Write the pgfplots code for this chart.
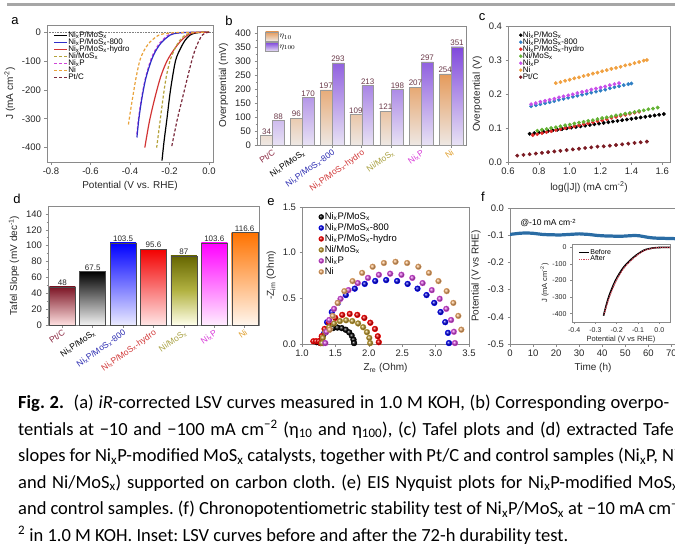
\documentclass[border=0pt]{standalone}
\usepackage{pgfplots}
\pgfplotsset{compat=1.18}
\usepackage{fontspec}
\setmainfont{Liberation Sans}
\newfontfamily\capfont{Carlito}
\definecolor{framec}{HTML}{8A8A8A}
\definecolor{cBlue}{HTML}{2E2EC8}
\definecolor{cRed}{HTML}{D23434}
\definecolor{cOlive}{HTML}{B4A23A}
\definecolor{cMag}{HTML}{D045D8}
\definecolor{cOrange}{HTML}{E9A23B}
\definecolor{cPt}{HTML}{7A2A3C}
\definecolor{sBlue}{HTML}{2F7FC4}
\definecolor{sRed}{HTML}{E02828}
\definecolor{sGreen}{HTML}{62B232}
\definecolor{sMag}{HTML}{C84FEA}
\definecolor{sOrange}{HTML}{F0A040}
\definecolor{sPt}{HTML}{7A1A22}
\definecolor{bOr}{HTML}{E59A5A}
\definecolor{bOrL}{HTML}{EEE8E4}
\definecolor{bPu}{HTML}{8048DC}
\definecolor{bPuL}{HTML}{E8E2F4}
\definecolor{cVal}{HTML}{6A3848}
\definecolor{lPt}{HTML}{8B2942}
\definecolor{lBlue}{HTML}{2A2AB0}
\definecolor{lRed}{HTML}{D03535}
\definecolor{lOlive}{HTML}{A8A040}
\definecolor{lMag}{HTML}{D83AD8}
\definecolor{lOr}{HTML}{E0A030}
\definecolor{eOlive}{HTML}{B8962E}
\definecolor{eOrange}{HTML}{EAA868}
\definecolor{fBlue}{HTML}{2A6CA4}
\definecolor{dotRed}{HTML}{D04858}
\definecolor{dPt}{HTML}{7C1525}
\pgfplotsset{
  panel/.style={scale only axis, anchor=south west,
    axis line style={framec, line width=0.7pt},
    tick style={framec, line width=0.6pt},
    tick align=outside, major tick length=2.5pt, minor tick length=1.5pt,
    xtick pos=left, ytick pos=left,
    tick label style={font=\fontsize{9.5}{10}\selectfont, text=black!85},
    label style={font=\fontsize{10}{11}\selectfont, text=black!85},
    legend cell align=left,
  },
  sc/.style={only marks, mark=*, mark size=1.75pt},
  bl/.style={only marks, mark=ball, mark size=2.9pt},
}
\tikzset{dash1/.style={dash pattern=on 3pt off 2pt, line width=1.2pt}}
\newcommand{\NPM}{Ni\textsubscript{x}P/MoS\textsubscript{x}}
\begin{document}
\begin{tikzpicture}
\fill[gray!70] (7pt,-2.7pt) rectangle (680pt,-6pt);
% panel letters
\node[font=\fontsize{13}{13}\selectfont] at (15pt,-21pt) {a};
\node[font=\fontsize{13}{13}\selectfont] at (229pt,-21pt) {b};
\node[font=\fontsize{13}{13}\selectfont] at (482pt,-17pt) {c};
\node[font=\fontsize{13}{13}\selectfont] at (17pt,-199pt) {d};
\node[font=\fontsize{13}{13}\selectfont] at (271pt,-202pt) {e};
\node[font=\fontsize{13}{13}\selectfont] at (483pt,-197pt) {f};

% ---------------- a
\begin{axis}[panel, at={(47pt,-162pt)}, width=166pt, height=137pt,
  xmin=-0.82, xmax=0.02, ymin=-450, ymax=25,
  xtick={-0.8,-0.6,-0.4,-0.2,0}, xticklabels={-0.8,-0.6,-0.4,-0.2,0.0},
  ytick={-400,-300,-200,-100,0}, yticklabels={-400,-300,-200,-100,0},
  xlabel={Potential (V vs. RHE)}, ylabel={J (mA cm\textsuperscript{-2})},
  legend style={at={(0.02,0.97)}, anchor=north west, draw=none, fill=none,
    font=\fontsize{8}{8}\selectfont, row sep=-1.5pt, nodes={inner sep=0.6pt}},
  legend image code/.code={\draw[#1] (0pt,0pt) -- (13pt,0pt);},
]
\addplot[gray, densely dotted, line width=0.6pt, forget plot] coordinates {(-0.82,0) (0.02,0)};
\addplot[cMag, dash1, smooth, forget plot] coordinates {(0,0) (-0.12,-1) (-0.175,-4) (-0.207,-10) (-0.25,-38) (-0.277,-68) (-0.297,-100) (-0.322,-160) (-0.342,-230) (-0.357,-300) (-0.366,-360)};
\addplot[black, line width=1.2pt, smooth] coordinates {(0,0) (-0.04,-0.5) (-0.07,-3) (-0.096,-10) (-0.12,-27) (-0.145,-57) (-0.17,-100) (-0.195,-200) (-0.213,-300) (-0.228,-380) (-0.238,-445)};
\addlegendentry{\NPM}
\addplot[cBlue, line width=1.2pt, smooth] coordinates {(0,0) (-0.1,-0.5) (-0.16,-3) (-0.197,-10) (-0.24,-35) (-0.27,-65) (-0.293,-100) (-0.32,-160) (-0.34,-230) (-0.355,-300) (-0.365,-365)};
\addlegendentry{\NPM-800}
\addplot[cRed, line width=1.2pt, smooth] coordinates {(0,0) (-0.06,-0.8) (-0.09,-4) (-0.109,-10) (-0.14,-28) (-0.175,-58) (-0.213,-100) (-0.245,-155) (-0.275,-230) (-0.302,-310) (-0.325,-400)};
\addlegendentry{\NPM-hydro}
\addplot[cOlive, dash1, smooth] coordinates {(0,0) (-0.07,-1) (-0.1,-4) (-0.121,-10) (-0.15,-30) (-0.175,-60) (-0.198,-100) (-0.218,-160) (-0.235,-240) (-0.25,-320) (-0.265,-400)};
\addlegendentry{Ni/MoS\textsubscript{x}}
\addlegendimage{cMag, dash1}
\addlegendentry{Ni\textsubscript{x}P}
\addplot[cOrange, dash1, smooth] coordinates {(0,0) (-0.15,-1) (-0.21,-4) (-0.254,-10) (-0.3,-35) (-0.33,-65) (-0.351,-100) (-0.37,-160) (-0.385,-220) (-0.398,-275) (-0.408,-320)};
\addlegendentry{Ni}
\addplot[cPt, dash1, smooth] coordinates {(0,0) (-0.015,-2) (-0.034,-10) (-0.05,-28) (-0.07,-60) (-0.088,-100) (-0.11,-160) (-0.135,-230) (-0.16,-300) (-0.19,-400)};
\addlegendentry{Pt/C}
\end{axis}

% ---------------- b
\begin{axis}[panel, at={(257pt,-145pt)}, width=209pt, height=119pt,
  xmin=-0.52, xmax=6.5, ymin=0, ymax=425,
  ytick={0,50,100,150,200,250,300,350,400}, yticklabels={0,50,100,150,200,250,300,350,400}, minor y tick num=1,
  xtick={0,1,2,3,4,5,6},
  xticklabels={{\textcolor{lPt}{Pt/C}},{\textcolor{black}{\NPM}},{\textcolor{lBlue}{\NPM-800}},{\textcolor{lRed}{\NPM-hydro}},{\textcolor{lOlive}{Ni/MoS\textsubscript{x}}},{\textcolor{lMag}{Ni\textsubscript{x}P}},{\textcolor{lOr}{Ni}}},
  x tick label style={rotate=35, anchor=north east, font=\fontsize{8.5}{9}\selectfont, inner sep=1pt},
  ylabel={Overpotential (mV)},
  ybar=0pt, bar width=11.8pt,
  point meta=explicit symbolic,
  nodes near coords, nodes near coords style={font=\fontsize{8}{8}\selectfont, text=cVal, inner sep=1pt},
  legend style={at={(0.025,0.97)}, anchor=north west, draw=none, fill=none,
    font=\fontsize{8}{8}\selectfont, row sep=1pt, nodes={inner sep=0.8pt}},
  legend image code/.code={\path[#1] (0pt,-4pt) rectangle (13pt,5pt);},
]
\addplot[draw=gray!80, top color=bOr, bottom color=bOrL] coordinates {(0,34) [34] (1,96) [96] (2,197) [197] (3,109) [109] (4,121) [121] (5,207) [207] (6,254) [254]};
\addlegendentry{$\eta_{10}$}
\addplot[draw=gray!80, top color=bPu, bottom color=bPuL] coordinates {(0,88) [88] (1,170) [170] (2,293) [293] (3,213) [213] (4,198) [198] (5,297) [297] (6,351) [351]};
\addlegendentry{$\eta_{100}$}
\end{axis}

% ---------------- c
\begin{axis}[panel, at={(508pt,-162pt)}, width=162pt, height=136pt,
  xmin=0.6, xmax=1.65, ymin=0, ymax=0.4,
  xtick={0.6,0.8,1.0,1.2,1.4,1.6}, xticklabels={0.6,0.8,1.0,1.2,1.4,1.6},
  ytick={0,0.1,0.2,0.3,0.4}, yticklabels={0.0,0.1,0.2,0.3,0.4},
  xlabel={log(|J|) (mA cm\textsuperscript{-2})}, ylabel={Overpotential (V)},
  legend style={at={(0.05,0.98)}, anchor=north west, draw=none, fill=none,
    font=\fontsize{8}{8}\selectfont, row sep=-1.5pt, nodes={inner sep=0.6pt}},
  legend image code/.code={\draw[#1, mark size=1.5pt] plot coordinates {(5pt,0pt)};},
]
\addplot[sc, black] table {
0.74 0.083
0.77 0.085
0.80 0.087
0.83 0.089
0.86 0.091
0.89 0.093
0.92 0.095
0.95 0.097
0.98 0.099
1.01 0.101
1.04 0.103
1.07 0.105
1.10 0.107
1.13 0.109
1.16 0.111
1.19 0.113
1.22 0.115
1.25 0.117
1.28 0.119
1.31 0.121
1.34 0.123
1.37 0.125
1.40 0.127
1.43 0.129
1.46 0.131
1.49 0.133
1.52 0.135
1.55 0.137
1.58 0.139
1.61 0.141
};
\addlegendentry{\NPM}
\addplot[sc, sBlue] table {
0.75 0.164
0.78 0.167
0.81 0.170
0.84 0.173
0.87 0.176
0.90 0.179
0.93 0.183
0.96 0.186
0.99 0.189
1.02 0.192
1.05 0.195
1.08 0.198
1.11 0.201
1.14 0.204
1.17 0.207
1.20 0.210
1.23 0.213
1.26 0.217
1.29 0.220
1.32 0.223
1.35 0.226
1.38 0.229
1.40 0.231
};
\addlegendentry{\NPM-800}
\addplot[sc, sRed] table {
0.76 0.079
0.79 0.082
0.82 0.085
0.85 0.088
0.88 0.091
0.91 0.094
0.94 0.097
0.97 0.100
1.00 0.102
1.03 0.105
1.06 0.108
1.09 0.111
1.12 0.114
1.15 0.117
1.18 0.120
1.21 0.123
1.24 0.126
1.27 0.130
1.30 0.133
1.33 0.136
1.36 0.139
1.39 0.142
1.42 0.145
1.45 0.148
};
\addlegendentry{\NPM-hydro}
\addplot[sc, sGreen] table {
0.79 0.092
0.82 0.095
0.85 0.097
0.88 0.100
0.91 0.102
0.94 0.105
0.97 0.108
1.00 0.110
1.03 0.113
1.06 0.116
1.09 0.118
1.12 0.121
1.15 0.123
1.18 0.126
1.21 0.129
1.24 0.131
1.27 0.134
1.30 0.137
1.33 0.139
1.36 0.142
1.39 0.144
1.42 0.147
1.45 0.150
1.48 0.152
1.51 0.155
1.54 0.157
1.57 0.160
};
\addlegendentry{Ni/MoS\textsubscript{x}}
\addplot[sc, sMag] table {
0.75 0.170
0.78 0.173
0.81 0.177
0.84 0.180
0.87 0.183
0.90 0.186
0.93 0.190
0.96 0.193
0.99 0.196
1.02 0.199
1.05 0.203
1.08 0.206
1.11 0.209
1.14 0.213
1.17 0.216
1.20 0.219
1.23 0.222
1.26 0.226
1.29 0.229
1.32 0.232
};
\addlegendentry{Ni\textsubscript{x}P}
\addplot[sc, sOrange] table {
0.91 0.232
0.94 0.235
0.97 0.239
1.00 0.242
1.03 0.246
1.06 0.249
1.09 0.253
1.12 0.256
1.15 0.260
1.18 0.263
1.21 0.267
1.24 0.270
1.27 0.274
1.30 0.277
1.33 0.280
1.36 0.284
1.39 0.287
1.42 0.291
1.45 0.294
1.48 0.298
1.50 0.300
};
\addlegendentry{Ni}
\addplot[sc, sPt] table {
0.66 0.019
0.70 0.021
0.74 0.023
0.78 0.025
0.82 0.027
0.86 0.029
0.90 0.031
0.94 0.033
0.98 0.035
1.02 0.037
1.06 0.039
1.10 0.041
1.14 0.043
1.18 0.045
1.22 0.046
1.26 0.048
1.30 0.050
1.34 0.052
1.38 0.054
1.42 0.056
1.46 0.058
1.50 0.060
};
\addlegendentry{Pt/C}
\end{axis}

% ---------------- d
\begin{axis}[panel, at={(48pt,-325pt)}, width=211pt, height=119pt,
  xmin=-0.47, xmax=6.47, ymin=0, ymax=150,
  ytick={0,20,40,60,80,100,120,140}, yticklabels={0,20,40,60,80,100,120,140}, minor y tick num=1,
  xtick={0,1,2,3,4,5,6},
  xticklabels={{\textcolor{lPt}{Pt/C}},{\textcolor{black}{\NPM}},{\textcolor{lBlue}{\NPM-800}},{\textcolor{lRed}{\NPM-hydro}},{\textcolor{lOlive}{Ni/MoS\textsubscript{x}}},{\textcolor{lMag}{Ni\textsubscript{x}P}},{\textcolor{lOr}{Ni}}},
  x tick label style={rotate=35, anchor=north east, font=\fontsize{8.5}{9}\selectfont, inner sep=1pt},
  ylabel={Tafel Slope (mV dec\textsuperscript{-1})},
  ybar, bar width=26pt,
  point meta=explicit symbolic,
  nodes near coords, nodes near coords style={font=\fontsize{8}{8}\selectfont, text=black!85, inner sep=1pt},
]
\addplot[bar shift=0pt, draw=gray!60!black, top color=dPt, bottom color=white!88!red] coordinates {(0,48) [48]};
\addplot[bar shift=0pt, draw=gray!60!black, top color=black, bottom color=black!5] coordinates {(1,67.5) [67.5]};
\addplot[bar shift=0pt, draw=gray!60!black, top color=blue, bottom color=blue!8] coordinates {(2,103.5) [103.5]};
\addplot[bar shift=0pt, draw=gray!60!black, top color=red!95!black, bottom color=red!10] coordinates {(3,95.6) [95.6]};
\addplot[bar shift=0pt, draw=gray!60!black, top color=olive!80!black, bottom color=yellow!8] coordinates {(4,87) [87]};
\addplot[bar shift=0pt, draw=gray!60!black, top color=magenta, bottom color=magenta!7] coordinates {(5,103.6) [103.6]};
\addplot[bar shift=0pt, draw=gray!60!black, top color=orange!90!red, bottom color=orange!7] coordinates {(6,116.6) [116.6]};
\end{axis}

% ---------------- e
\begin{axis}[panel, at={(302pt,-344pt)}, width=167pt, height=137pt,
  xmin=1, xmax=3.5, ymin=0, ymax=1.5,
  xtick={1,1.5,2,2.5,3,3.5}, xticklabels={1.0,1.5,2.0,2.5,3.0,3.5},
  ytick={0,0.5,1,1.5}, yticklabels={0.0,0.5,1.0,1.5},
  xlabel={Z\textsubscript{re} (Ohm)}, ylabel={-Z\textsubscript{im} (Ohm)},
  legend style={at={(0.08,0.98)}, anchor=north west, draw=none, fill=none,
    font=\fontsize{9.5}{9.5}\selectfont, row sep=1pt, nodes={inner sep=0.8pt}},
  legend image code/.code={\draw[#1, mark size=2.5pt] plot coordinates {(5pt,0pt)};},
]
\addplot[bl, black, ball color=black] coordinates {(1.22,0.02) (1.25,0.02) (1.28,0.01) (1.289,0.047) (1.313,0.09) (1.353,0.127) (1.405,0.156) (1.465,0.174) (1.53,0.18) (1.595,0.174) (1.655,0.156) (1.707,0.127) (1.747,0.09) (1.771,0.047) (1.78,0.01)};
\addlegendentry{\NPM}
\addplot[bl, blue, ball color=blue!85!black] coordinates {(1.32,0.01) (1.334,0.122) (1.376,0.239) (1.446,0.35) (1.54,0.45) (1.656,0.536) (1.79,0.606) (1.939,0.658) (2.096,0.69) (2.26,0.70) (2.424,0.69) (2.581,0.658) (2.73,0.606) (2.864,0.536) (2.98,0.45) (3.074,0.35) (3.144,0.239) (3.186,0.122) (3.2,0.01)};
\addlegendentry{\NPM-800}
\addplot[bl, red, ball color=red!90!black] coordinates {(1.17,0.03) (1.21,0.03) (1.25,0.03) (1.28,0.01) (1.295,0.085) (1.338,0.165) (1.407,0.233) (1.498,0.286) (1.602,0.319) (1.715,0.33) (1.828,0.319) (1.933,0.286) (2.023,0.233) (2.092,0.165) (2.135,0.085) (2.15,0.02)};
\addlegendentry{\NPM-hydro}
\addplot[bl, eOlive, ball color=eOlive] coordinates {(1.30,0.01) (1.312,0.067) (1.348,0.13) (1.405,0.184) (1.48,0.225) (1.567,0.251) (1.66,0.26) (1.753,0.251) (1.84,0.225) (1.915,0.184) (1.972,0.13) (2.008,0.067) (2.02,0.01)};
\addlegendentry{Ni/MoS\textsubscript{x}}
\addplot[bl, cMag, ball color=cMag] coordinates {(1.35,0.01) (1.365,0.134) (1.408,0.263) (1.48,0.385) (1.577,0.495) (1.696,0.59) (1.835,0.667) (1.988,0.724) (2.151,0.758) (2.32,0.77) (2.489,0.758) (2.652,0.724) (2.805,0.667) (2.944,0.59) (3.063,0.495) (3.16,0.385) (3.232,0.263) (3.275,0.134) (3.29,0.01)};
\addlegendentry{Ni\textsubscript{x}P}
\addplot[bl, eOrange, ball color=eOrange] coordinates {(1.415,0.157) (1.46,0.308) (1.534,0.45) (1.634,0.579) (1.757,0.689) (1.90,0.779) (2.058,0.846) (2.226,0.887) (2.40,0.90) (2.574,0.887) (2.742,0.846) (2.90,0.779) (3.043,0.689) (3.166,0.579) (3.266,0.45) (3.34,0.308) (3.385,0.157)};
\addlegendentry{Ni}
\end{axis}

% ---------------- f
\begin{axis}[panel, at={(510pt,-344pt)}, width=166pt, height=136pt,
  xmin=0, xmax=72, ymin=-0.5, ymax=0,
  xtick={0,10,20,30,40,50,60,70}, xticklabels={0,10,20,30,40,50,60,70},
  ytick={-0.5,-0.4,-0.3,-0.2,-0.1,0}, yticklabels={-0.5,-0.4,-0.3,-0.2,-0.1,0.0},
  xlabel={Time (h)}, ylabel={Potential (V vs RHE)},
]
\addplot[fBlue, line width=3.2pt] coordinates {(0,-0.097) (2,-0.095) (4,-0.093) (6,-0.092) (8,-0.092) (10,-0.093) (12,-0.095) (14,-0.097) (16,-0.098) (18,-0.098) (20,-0.099) (22,-0.099) (24,-0.098) (26,-0.097) (28,-0.096) (30,-0.095) (32,-0.096) (34,-0.097) (36,-0.099) (38,-0.101) (40,-0.102) (42,-0.103) (44,-0.103) (46,-0.104) (48,-0.104) (50,-0.103) (52,-0.102) (54,-0.101) (56,-0.102) (58,-0.105) (60,-0.108) (62,-0.110) (64,-0.111) (66,-0.111) (68,-0.112) (70,-0.112) (72,-0.113)};
\node[anchor=west, font=\fontsize{8.5}{9}\selectfont, inner sep=0pt] at (axis cs:4.5,-0.055) {@-10 mA cm\textsuperscript{-2}};
\end{axis}

% inset
\begin{axis}[panel, at={(572pt,-322pt)}, width=98pt, height=78pt,
  xmin=-0.41, xmax=0.05, ymin=-450, ymax=20,
  xtick={-0.4,-0.3,-0.2,-0.1,0}, xticklabels={-0.4,-0.3,-0.2,-0.1,0.0},
  ytick={-400,-300,-200,-100,0}, yticklabels={-400,-300,-200,-100,0},
  major tick length=2pt,
  tick label style={font=\fontsize{7}{7}\selectfont, text=black!85},
  label style={font=\fontsize{7.5}{8}\selectfont, text=black!85},
  xlabel={Potential (V vs RHE)}, ylabel={J (mA cm\textsuperscript{-2})},
  xlabel style={yshift=3pt}, ylabel style={yshift=-3pt},
  axis background/.style={fill=white},
  legend style={at={(0.03,0.97)}, anchor=north west, draw=none, fill=none,
    font=\fontsize{7}{7}\selectfont, row sep=-1pt, nodes={inner sep=0.6pt}},
  legend image code/.code={\draw[#1] (0pt,0pt) -- (10pt,0pt);},
]
\addplot[black, line width=1.6pt, smooth] coordinates {(0.05,0) (0.03,0) (0,-1) (-0.03,-4) (-0.073,-18) (-0.12,-59) (-0.167,-119) (-0.206,-200) (-0.238,-300) (-0.262,-412)};
\addlegendentry{Before}
\addplot[dotRed, densely dotted, line width=1.2pt, smooth] coordinates {(0.05,-1) (0.03,-1) (0,-2) (-0.03,-5) (-0.072,-20) (-0.118,-62) (-0.165,-123) (-0.204,-205) (-0.236,-305) (-0.26,-405)};
\addlegendentry{After}
\end{axis}

% caption
\node[anchor=north west, inner sep=0pt, align=left, font=\capfont\fontsize{18.5}{26.5}\selectfont\frenchspacing] at (18pt,-395pt) {%
\makebox[651pt][s]{\textbf{Fig. 2.}\ \ (a) \textit{iR}-corrected LSV curves measured in 1.0 M KOH, (b) Corresponding overpo-}\\
\makebox[660pt][s]{tentials at −10 and −100 mA cm\textsuperscript{−2} (η\textsubscript{10} and η\textsubscript{100}), (c) Tafel plots and (d) extracted Tafel}\\
\makebox[660pt][s]{slopes for Ni\textsubscript{x}P-modified MoS\textsubscript{x} catalysts, together with Pt/C and control samples (Ni\textsubscript{x}P, Ni}\\
\makebox[660pt][s]{and Ni/MoS\textsubscript{x}) supported on carbon cloth. (e) EIS Nyquist plots for Ni\textsubscript{x}P-modified MoS\textsubscript{x}}\\
\makebox[660pt][s]{and control samples. (f) Chronopotentiometric stability test of Ni\textsubscript{x}P/MoS\textsubscript{x} at −10 mA cm\textsuperscript{−}}\\
\textsuperscript{2} in 1.0 M KOH. Inset: LSV curves before and after the 72-h durability test.};

\pgfresetboundingbox
\path[use as bounding box] (0,0) rectangle (675pt,-550pt);
\end{tikzpicture}
\end{document}
